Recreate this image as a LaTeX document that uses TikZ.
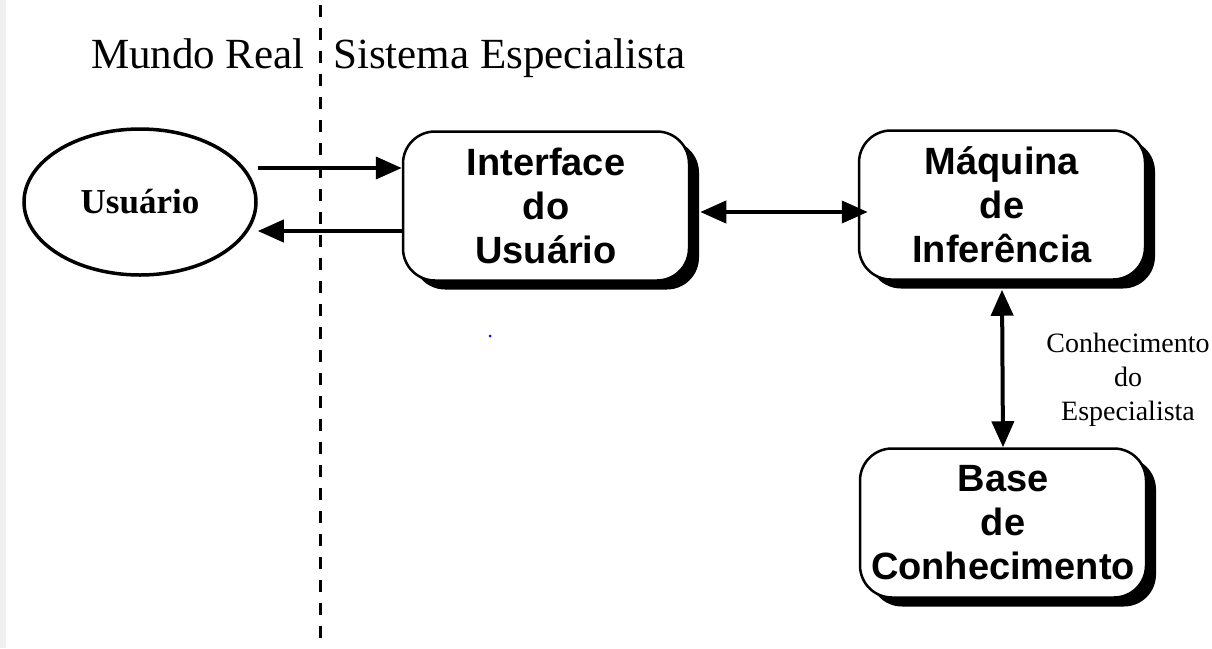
\documentclass[tikz,border=0pt]{standalone}
\usepackage{fontspec}
\setmainfont{Liberation Serif}
\newfontfamily\boxfont{Liberation Sans}
\usepackage{tikz}
\usetikzlibrary{arrows.meta}
\usetikzlibrary{shapes.geometric}
\usetikzlibrary{shadows}

\tikzset{
  caixa/.style={draw=black, line width=2.5pt, fill=white, rounded corners=32pt,
    minimum width=286pt, minimum height=149pt, align=center, inner sep=0pt,
    font=\boxfont\bfseries\fontsize{38}{44}\selectfont,
    drop shadow={shadow xshift=10pt, shadow yshift=-9pt, fill=black, opacity=1}},
  seta/.style={line width=4pt, -{Triangle[length=26pt,width=22pt]}},
  seta2/.style={line width=4pt, {Triangle[length=26pt,width=22pt]}-{Triangle[length=26pt,width=22pt]}},
}

\begin{document}
\begin{tikzpicture}[x=1pt,y=-1pt]
            \useasboundingbox[fill=white] (0,0) rectangle (1212,648);
            \fill[black!6] (0,0) rectangle (6,648);

            % The dividing line
            \coordinate (top) at (320,5);
            \coordinate (bot) at (320,648);
            \draw[line width=3pt, dash pattern=on 12pt off 11pt] (top) -- (bot);

            % Place the titles
            \node[anchor=base east, inner sep=0pt, font=\fontsize{43}{50}\selectfont] (mr) at (305,68) {Mundo Real};
            \node[anchor=base west, inner sep=0pt, font=\fontsize{43}{50}\selectfont] (se) at (333,68) {Sistema Especialista};

            % Place the user
            \node[ellipse, draw=black, line width=3.5pt, minimum width=232pt, minimum height=146pt,
                  inner sep=0pt, font=\bfseries\fontsize{35}{40}\selectfont] (usr) at (140,202) {Usuário};

            % Place the boxes
            \node[caixa] (ui) at (546,206) {Interface\\do\\Usuário};
            \node[caixa] (mi) at (1002,205) {Máquina\\de\\Inferência};
            \node[caixa] (bc) at (1003,523) {Base\\de\\Conhecimento};
            \node[align=center, font=\fontsize{28}{34}\selectfont] (ce) at (1128,380) {Conhecimento\\do\\Especialista};
            \fill[blue] (490,336) circle (1.5pt);

            % The arrows!
            \coordinate (in) at ([yshift=38pt]ui.west);
            \coordinate (out) at ([yshift=-25pt]ui.west);
            \draw[seta] (usr.east |- in) -- (in);
            \draw[seta] (out) -- (usr.east |- out);
            \draw[seta2] ([xshift=10pt,yshift=-6pt]ui.east) -- ([xshift=10pt,yshift=-6pt]ui.east -| mi.west);
            \draw[seta2] ([yshift=-9pt]mi.south) -- (bc.north);
\end{tikzpicture}
\end{document}
